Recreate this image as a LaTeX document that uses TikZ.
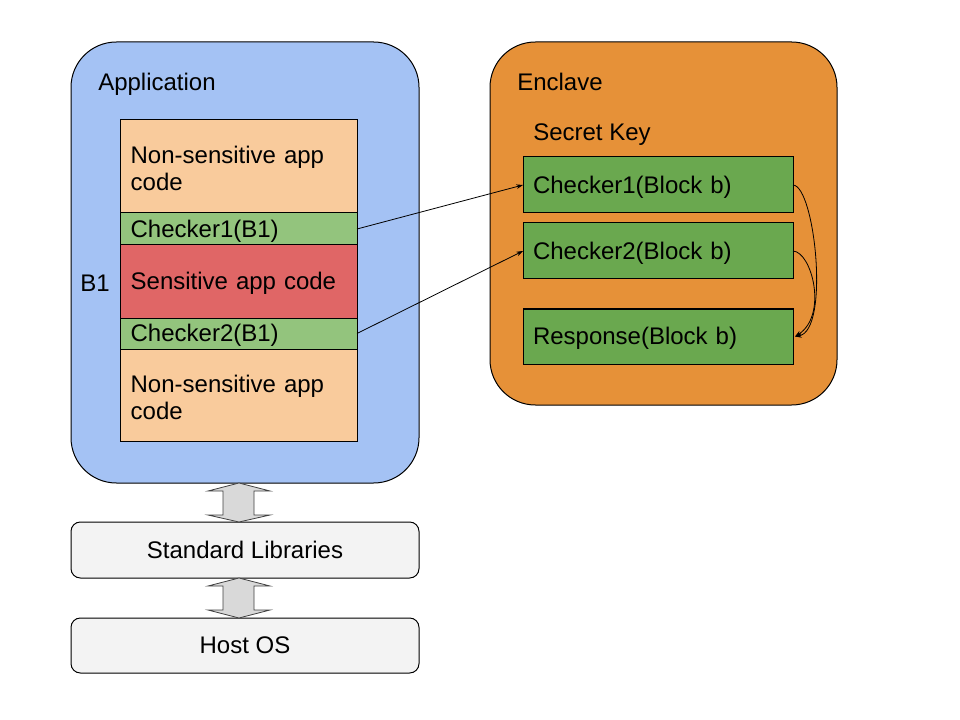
\documentclass[tikz,border=0pt]{standalone}
\usepackage{fontspec}
\setmainfont{Liberation Sans}
\usetikzlibrary{arrows.meta}
\definecolor{appblue}{HTML}{A4C2F4}
\definecolor{encor}{HTML}{E69138}
\definecolor{peach}{HTML}{F9CB9C}
\definecolor{lgreen}{HTML}{93C47D}
\definecolor{sred}{HTML}{E06666}
\definecolor{dgreen}{HTML}{6AA84F}
\definecolor{libgray}{HTML}{F3F3F3}
\definecolor{arrgray}{HTML}{D9D9D9}
\tikzset{
  base/.style={draw=black, line width=0.75pt, inner sep=0pt, outer sep=0pt, anchor=north west},
  stackbox/.style={base, minimum width=177.75pt, text width=161.75pt, inner xsep=8pt, align=left, text height=16pt},
  encbox/.style={base, fill=dgreen, minimum width=202.5pt, minimum height=42pt, text width=187.5pt, inner xsep=7.5pt, align=left, text height=16pt},
  container/.style={base, rounded corners=34pt},
  barbox/.style={base, fill=libgray, rounded corners=7pt, minimum width=261pt, minimum height=42pt},
  lbl/.style={inner sep=0pt, anchor=base west},
  link/.style={line width=0.6pt, -{Stealth[length=5pt,width=3.5pt]}},
  blockarrow/.style={fill=arrgray, draw=black!75, line width=0.6pt},
}
\begin{document}
\begin{tikzpicture}[x=0.75pt, y=-0.75pt, font=\fontsize{18pt}{20.25pt}\selectfont]
\useasboundingbox (0,0) rectangle (960,720);
% containers
\node[container, fill=appblue, minimum width=261pt, minimum height=330.75pt] (app) at (71,42) {};
\node[container, fill=encor, minimum width=260.25pt, minimum height=272.25pt] (enc) at (490,42) {};
\node[lbl] (applbl) at (98,91) {Application};
\node[lbl] (enclbl) at (517,91) {Enclave};
\node[lbl] (keylbl) at (533,140.5) {Secret Key};
\node[lbl] (b1lbl) at (80,291.5) {B1};
% stack
\node[stackbox, fill=peach, minimum height=69.75pt] (ns1) at (120,120) {Non-sensitive app\\code};
\node[stackbox, fill=lgreen, minimum height=24pt] (c1) at (120,213) {Checker1(B1)};
\node[stackbox, fill=sred, minimum height=54.75pt] (sens) at (120,245) {Sensitive app code};
\node[stackbox, fill=lgreen, minimum height=23.25pt] (c2) at (120,318) {Checker2(B1)};
\node[stackbox, fill=peach, minimum height=69pt] (ns2) at (120,349) {Non-sensitive app\\code};
% enclave boxes
\node[encbox] (cb1) at (523,157) {Checker1(Block b)};
\node[encbox] (cb2) at (523,223) {Checker2(Block b)};
\node[encbox, minimum height=41.25pt] (resp) at (523,309) {Response(Block b)};
% bottom bars
\node[barbox] (lib) at (71,522) {};
\node (libtxt) at (lib.center) {Standard Libraries};
\node[barbox, minimum height=41.25pt] (os) at (71,618) {};
\node (ostxt) at (os.center) {Host OS};
% links
\draw[link] (c1.east) -- (cb1.west);
\draw[link] (c2.east) -- (cb2.west);
\draw[link] (cb1.east) .. controls +(22,1) and +(35,-6) .. ([xshift=1.5pt]resp.east);
\draw[link] (cb2.east) .. controls +(19,1) and +(33,-21) .. ([xshift=1.5pt]resp.east);
% block arrows
\draw[blockarrow] (239,483) -- (270,491) -- (254,491) -- (254,515) -- (270,515) -- (239,522)
  -- (208,515) -- (223,515) -- (223,491) -- (208,491) -- cycle;
\draw[blockarrow] (239,578) -- (270,586) -- (254,586) -- (254,610) -- (270,610) -- (239,618)
  -- (208,610) -- (223,610) -- (223,586) -- (208,586) -- cycle;
\end{tikzpicture}
\end{document}
